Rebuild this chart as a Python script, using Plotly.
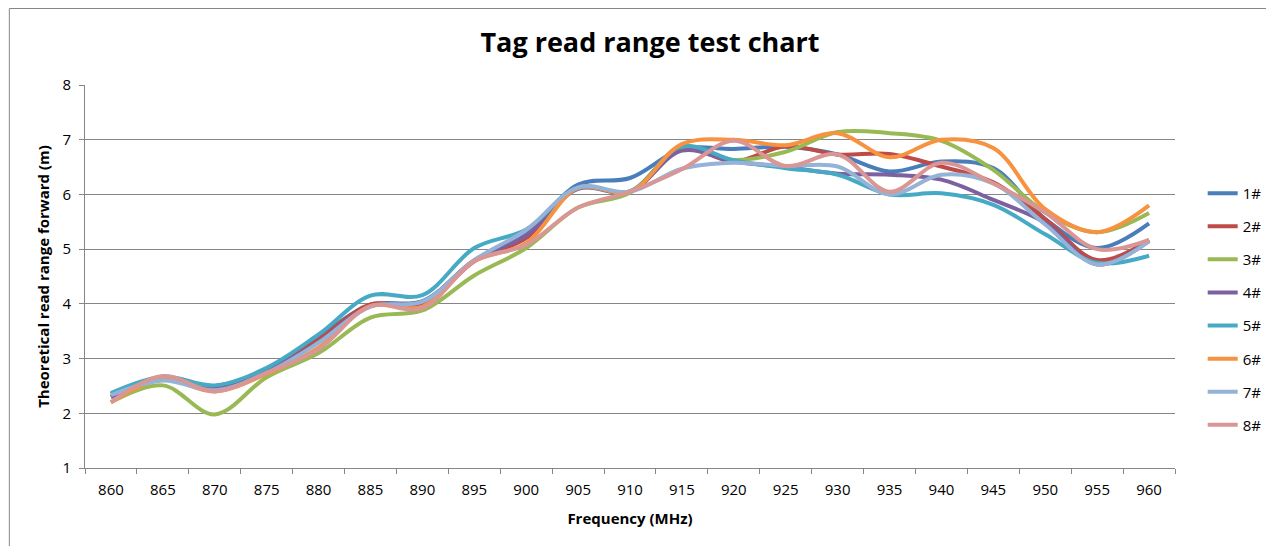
import plotly.graph_objects as go

freq = ["860", "865", "870", "875", "880", "885", "890", "895", "900", "905", "910",
        "915", "920", "925", "930", "935", "940", "945", "950", "955", "960"]

s1 = [2.35, 2.65, 2.48, 2.78, 3.40, 3.98, 4.05, 4.78, 5.27, 6.18, 6.30, 6.83, 6.83, 6.87, 6.73, 6.42, 6.60, 6.48, 5.55, 5.02, 5.47]
s2 = [2.30, 2.62, 2.50, 2.80, 3.35, 3.99, 3.98, 4.78, 5.20, 6.12, 6.05, 6.85, 6.60, 6.88, 6.73, 6.74, 6.51, 6.22, 5.55, 4.80, 5.17]
s3 = [2.20, 2.51, 1.98, 2.66, 3.10, 3.75, 3.88, 4.52, 5.02, 5.76, 6.03, 6.85, 6.63, 6.78, 7.14, 7.12, 6.98, 6.45, 5.67, 5.31, 5.66]
s4 = [2.30, 2.62, 2.45, 2.77, 3.30, 3.96, 4.04, 4.80, 5.25, 6.10, 6.05, 6.80, 6.60, 6.50, 6.38, 6.36, 6.27, 5.90, 5.48, 4.72, 5.15]
s5 = [2.37, 2.67, 2.51, 2.83, 3.44, 4.15, 4.16, 5.02, 5.36, 6.12, 6.06, 6.88, 6.62, 6.48, 6.36, 6.00, 6.02, 5.81, 5.27, 4.75, 4.88]
s6 = [2.20, 2.62, 2.40, 2.72, 3.20, 3.96, 3.95, 4.78, 5.11, 6.12, 6.05, 6.92, 7.00, 6.90, 7.12, 6.68, 7.00, 6.85, 5.73, 5.31, 5.80]
s7 = [2.33, 2.60, 2.42, 2.74, 3.29, 3.95, 4.04, 4.80, 5.35, 6.13, 6.05, 6.47, 6.58, 6.52, 6.51, 6.00, 6.36, 6.20, 5.45, 4.72, 5.14]
s8 = [2.20, 2.68, 2.40, 2.74, 3.17, 3.96, 3.92, 4.78, 5.08, 5.76, 6.05, 6.46, 6.98, 6.52, 6.73, 6.05, 6.58, 6.20, 5.67, 5.00, 5.17]

names = ["1#", "2#", "3#", "4#", "5#", "6#", "7#", "8#"]
series = [s1, s2, s3, s4, s5, s6, s7, s8]
colors = ["#4A7EBB", "#BE4B48", "#98B954", "#7D60A0", "#46AAC5", "#F69240", "#94B3D6", "#D99694"]

FONT = "'Open Sans', Lato, sans-serif"
W, H = 1271, 538
L, R, T, B = 77, 92, 77, 78
PW, PH = W - L - R, H - T - B

fig = go.Figure()
for name, vals, col in zip(names, series, colors):
    fig.add_trace(go.Scatter(
        x=freq, y=vals, name=name, mode="lines",
        line=dict(color=col, width=4, shape="spline", smoothing=1.0),
        legendgroup=name,
    ))

fig.update_layout(
    width=W, height=H,
    margin=dict(l=L, r=R, t=T, b=B),
    paper_bgcolor="white", plot_bgcolor="white",
    font=dict(family=FONT, size=15, color="black"),
    title=dict(text="<b>Tag read range test chart</b>", x=642 / W, xanchor="center",
               y=1 - 35 / H, yanchor="middle",
               font=dict(family=FONT, size=27, color="black")),
    showlegend=True,
    legend=dict(x=(1215 - 85) / PW, xanchor="left", y=0.76, yanchor="top",
                font=dict(family=FONT, size=15, color="black"),
                tracegroupgap=10.6, bgcolor="rgba(0,0,0,0)"),
    xaxis=dict(type="category", range=[-0.5, 20.5], tickson="boundaries",
               ticks="outside", ticklen=5, tickcolor="#868686",
               showline=True, linecolor="#868686", linewidth=1,
               showgrid=False, zeroline=False, ticklabelstandoff=8,
               tickfont=dict(family=FONT, size=15, color="black"),
               title=dict(text="<b>Frequency (MHz)</b>", standoff=15,
                          font=dict(family=FONT, size=15, color="black"))),
    yaxis=dict(range=[1, 8], dtick=1, tick0=1,
               ticks="outside", ticklen=5, tickcolor="#868686",
               showline=True, linecolor="#868686", linewidth=1,
               showgrid=True, gridcolor="#868686", gridwidth=1,
               zeroline=False, ticklabelstandoff=5,
               tickfont=dict(family=FONT, size=15, color="black"),
               title=dict(text="<b>Theoretical read range forward (m)</b>", standoff=9,
                          font=dict(family=FONT, size=15, color="black"))),
)

# chart-area border (left and top edges)
fx = (0.5 - L) / PW
fy = (H - B - 0.5) / PH
fig.add_shape(type="line", xref="paper", yref="paper",
              x0=fx, x1=fx, y0=(H - B - H) / PH, y1=fy,
              line=dict(color="#868686", width=1))
fig.add_shape(type="line", xref="paper", yref="paper",
              x0=fx, x1=(W - L) / PW, y0=fy, y1=fy,
              line=dict(color="#868686", width=1))

fig.write_html("out.html")
